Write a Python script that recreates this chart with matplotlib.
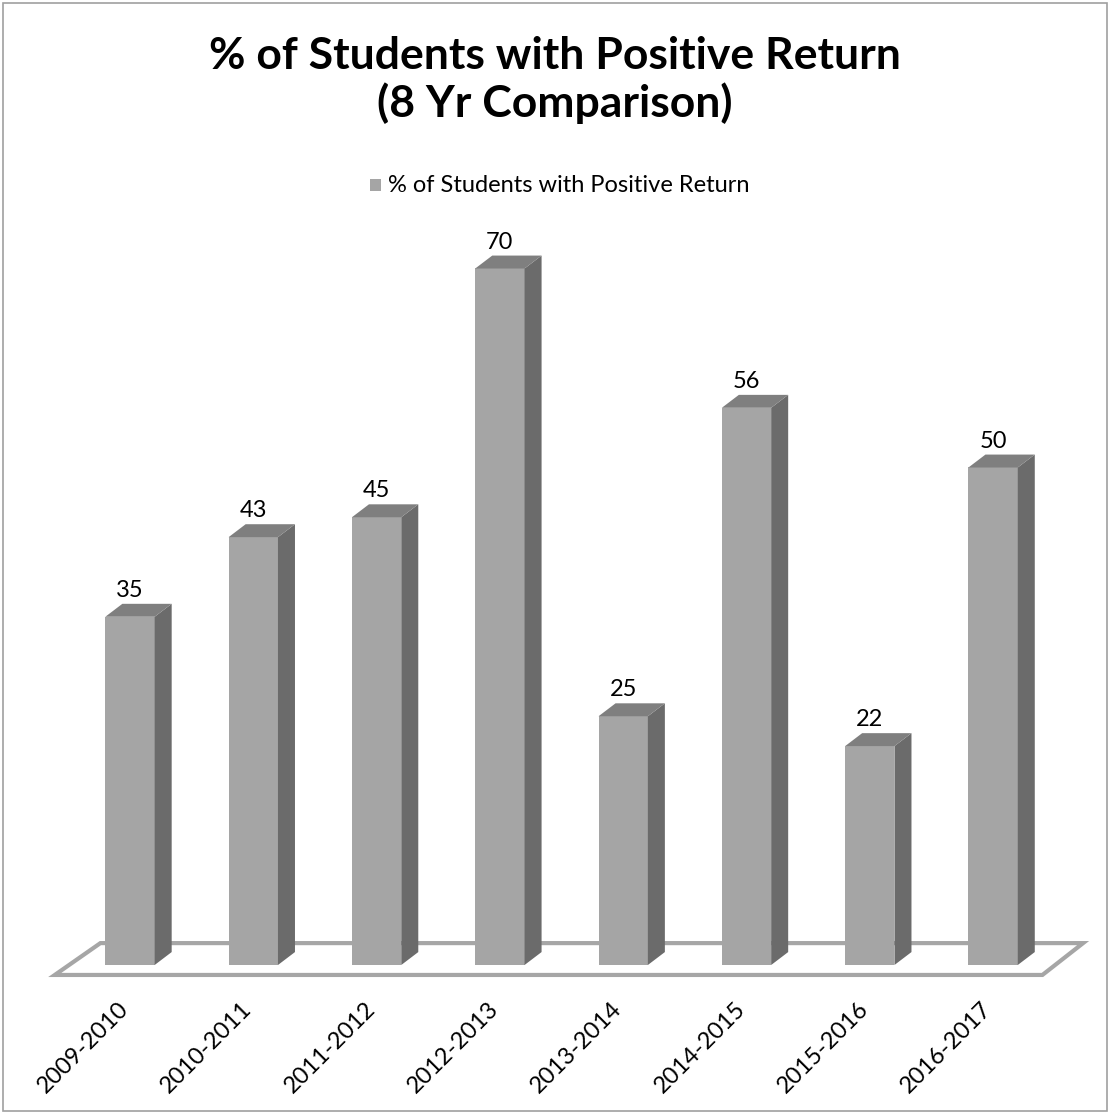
"""Excel-style 3D column chart: % of students with positive return."""

import matplotlib

matplotlib.use("Agg")
import matplotlib.pyplot as plt
from matplotlib.patches import Polygon, Rectangle

years = ["2009-2010", "2010-2011", "2011-2012", "2012-2013",
         "2013-2014", "2014-2015", "2015-2016", "2016-2017"]
pct_positive = [35, 43, 45, 70, 25, 56, 22, 50]

title = "% of Students with Positive Return\n(8 Yr Comparison)"
series_name = "% of Students with Positive Return"

plt.rcParams["font.family"] = ["Lato", "DejaVu Sans"]

W, H = 1110, 1114
fig = plt.figure(figsize=(W / 100, H / 100), dpi=100)

# axes placed so category i sits at its column and value 0 at the floor
x0_px, step_px, y0_px, unit_px = 130.0, 123.3, 965.0, 9.95
left = x0_px - 0.5 * step_px
right = x0_px + 7.5 * step_px
ymax = 75
ax = fig.add_axes([left / W, (H - y0_px) / H, (right - left) / W,
                   ymax * unit_px / H])
ax.set_xlim(-0.5, 7.5)
ax.set_ylim(0, ymax)
ax.axis("off")

half_w = 0.2          # half width of bar front face
dx, dy = 0.138, 1.3   # 3D depth offset (category / value units)

front_col = "#a5a5a5"
side_col = "#6b6b6b"
top_col = "#7f7f7f"
floor_col = "#a6a6a6"

# floor
floor = Polygon([(-0.61, -1.0), (7.40, -1.0), (7.73, 2.2), (-0.24, 2.2)],
                closed=True, facecolor="white", edgecolor=floor_col,
                linewidth=3, clip_on=False, zorder=1)
ax.add_patch(floor)

for i, v in enumerate(pct_positive):
    xl, xr = i - half_w, i + half_w
    ax.add_patch(Rectangle((xl, 0), xr - xl, v, facecolor=front_col,
                           edgecolor="none", zorder=3, clip_on=False))
    ax.add_patch(Polygon([(xr, 0), (xr + dx, dy), (xr + dx, v + dy), (xr, v)],
                         closed=True, facecolor=side_col, edgecolor="none",
                         zorder=3, clip_on=False))
    ax.add_patch(Polygon([(xl, v), (xr, v), (xr + dx, v + dy), (xl + dx, v + dy)],
                         closed=True, facecolor=top_col, edgecolor="none",
                         zorder=3, clip_on=False))
    ax.text(i, v + dy + 0.3, f"{v}", ha="center", va="bottom",
            fontsize=17, color="black", zorder=4)
    ax.text(i - 0.1, -3.3, years[i], ha="right", va="top", rotation=45,
            rotation_mode="anchor", fontsize=17, color="black")

fig.text(0.5, 1 - 80 / H, title, ha="center", va="center", fontsize=32,
         fontweight="bold", linespacing=1.2)

# legend
fig.patches.append(Rectangle((370 / W, 1 - 191 / H), 11 / W, 12 / H,
                             transform=fig.transFigure, facecolor=front_col,
                             edgecolor="none"))
fig.text(388 / W, 1 - 185 / H, series_name, ha="left", va="center",
         fontsize=17)

# chart border
fig.patches.append(Rectangle((3 / W, 3 / H), 1 - 6 / W, 1 - 6 / H,
                             transform=fig.transFigure, facecolor="none",
                             edgecolor="#a0a0a0", linewidth=1.2))

fig.savefig("out.png", dpi=100)
